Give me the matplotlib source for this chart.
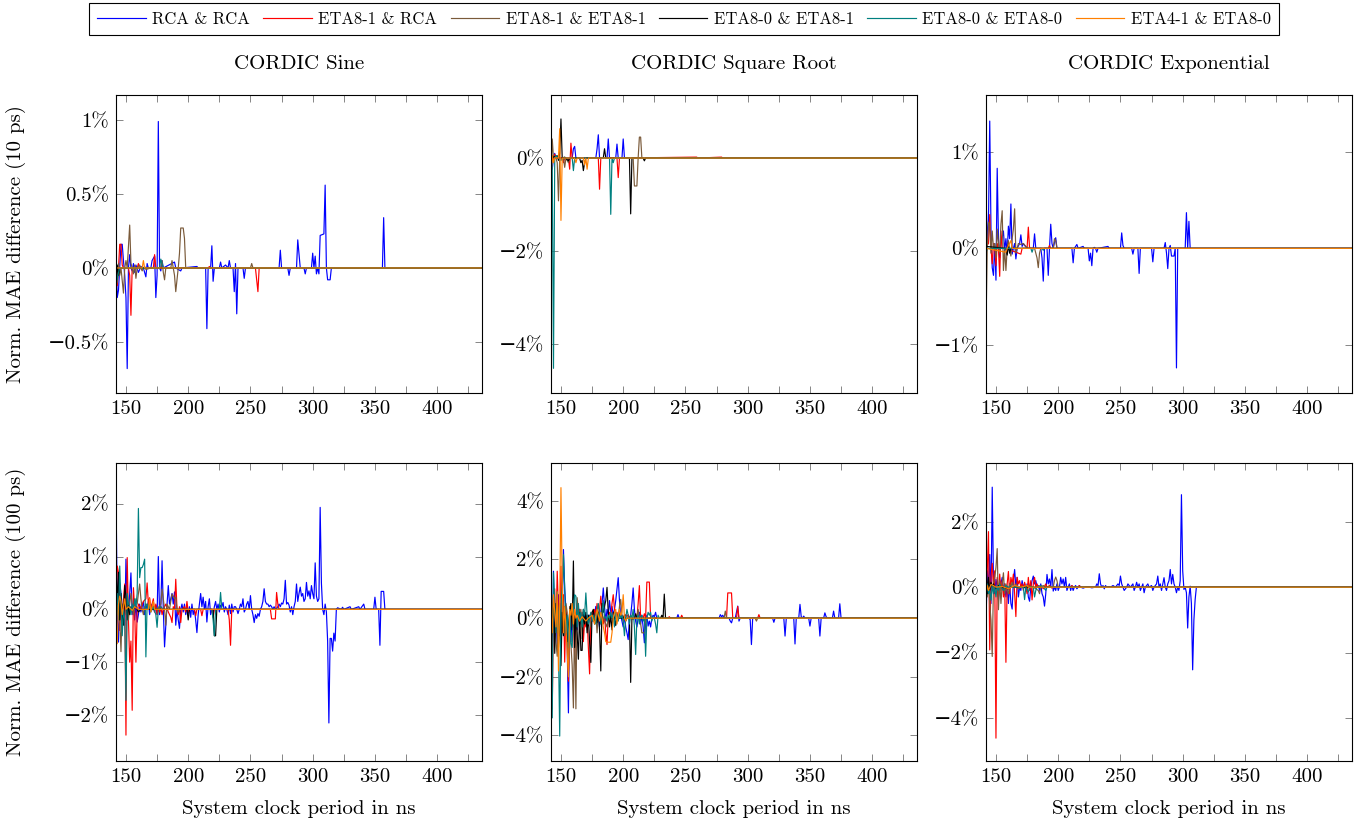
import matplotlib
matplotlib.use('Agg')
import matplotlib.pyplot as plt
from matplotlib.ticker import FuncFormatter

# Computer Modern look, minus sign comes from DejaVu Serif
plt.rcParams['font.family'] = ['cmr10', 'DejaVu Serif']
plt.rcParams['axes.unicode_minus'] = True

labels = ['RCA & RCA', 'ETA8-1 & RCA', 'ETA8-1 & ETA8-1',
          'ETA8-0 & ETA8-1', 'ETA8-0 & ETA8-0', 'ETA4-1 & ETA8-0']
colors = ['#0000ff', '#ff0000', '#7a5a3a', '#000000', '#008080', '#ff8000']

titles = ['CORDIC Sine', 'CORDIC Square Root', 'CORDIC Exponential']
ylabels = ['Norm. MAE difference (10 ps)', 'Norm. MAE difference (100 ps)']
xlabel = 'System clock period in ns'

# (clock period in ns, normalised MAE difference in %)
# ---- CORDIC Sine, 10 ps ----
sin10_rca = [(142, 0.12), (143, -0.2), (144, -0.15), (146, 0.16), (147, 0.16), (148, 0.05), (149, -0.05),
             (150, -0.2), (151, -0.68), (152, 0.0), (153, 0.09), (154, 0.0), (155, -0.02), (156, 0.03),
             (157, -0.03), (158, 0.02), (160, -0.03), (162, 0.01), (164, 0.0), (166, -0.06), (167, 0.03),
             (168, 0.0), (170, 0.0), (171, 0.05), (173, 0.08), (174, -0.2), (175, -0.05), (176, 0.99),
             (177, 0.0), (178, -0.02), (179, 0.05), (180, 0.0), (189, 0.04), (190, 0.0), (192, -0.01),
             (194, -0.02), (195, 0.0), (207, 0.01), (208, 0.0), (214, 0.0), (215, -0.41), (216, 0.0),
             (218, 0.0), (219, 0.15), (220, -0.09), (221, 0.0), (225, 0.0), (226, 0.04), (227, 0.0),
             (230, 0.02), (232, 0.0), (233, 0.05), (234, 0.0), (236, 0.0), (237, -0.16), (238, 0.03),
             (239, -0.31), (240, 0.0), (244, 0.0), (245, -0.07), (246, 0.0), (273, 0.0), (274, 0.12),
             (275, 0.0), (280, 0.0), (281, -0.05), (282, 0.0), (287, 0.0), (288, 0.19), (290, 0.0),
             (293, 0.0), (294, -0.04), (295, 0.0), (299, 0.0), (300, 0.1), (301, 0.0), (302, 0.08),
             (303, -0.04), (304, 0.0), (305, -0.04), (306, 0.22), (309, 0.23), (310, 0.56), (311, 0.0),
             (312, -0.08), (314, -0.08), (315, 0.0), (356, 0.0), (357, 0.34), (358, 0.0), (436, 0.0)]
sin10_e81r = [(142, -0.08), (143, -0.12), (144, 0.0), (145, 0.16), (146, 0.16), (147, 0.02), (148, 0.0),
              (152, 0.0), (153, -0.05), (154, -0.32), (155, 0.0), (159, 0.0), (160, 0.03), (161, 0.0),
              (172, 0.0), (173, 0.09), (174, 0.0), (216, 0.0), (217, 0.01), (218, 0.0), (254, 0.0),
              (255, -0.08), (256, -0.16), (257, 0.0), (436, 0.0)]
sin10_e81 = [(142, 0.02), (143, -0.1), (144, 0.03), (145, -0.05), (146, 0.0), (148, -0.17), (149, 0.0),
             (150, 0.05), (151, 0.0), (153, 0.29), (154, 0.03), (155, 0.0), (156, -0.04), (157, 0.02),
             (158, -0.07), (159, 0.0), (161, 0.02), (163, -0.02), (164, 0.0), (165, 0.01), (166, -0.01),
             (170, 0.0), (178, 0.0), (179, 0.05), (180, -0.03), (181, -0.08), (182, 0.0), (186, 0.0),
             (187, 0.05), (188, 0.0), (189, -0.05), (190, -0.16), (191, -0.08), (192, 0.0), (193, 0.1),
             (194, 0.27), (196, 0.27), (197, 0.2), (198, 0.0), (250, 0.0), (251, 0.03), (252, 0.0),
             (436, 0.0)]
sin10_e80e81 = [(142, -0.12), (143, 0.02), (144, -0.05), (145, 0.0), (436, 0.0)]
sin10_e80 = [(142, -0.02), (143, -0.08), (144, -0.03), (145, 0.0), (177, 0.0), (178, 0.06), (179, 0.03),
             (180, 0.0), (436, 0.0)]
sin10_e41 = [(142, 0.0), (163, 0.0), (164, 0.05), (165, 0.0), (436, 0.0)]

# ---- CORDIC Square Root, 10 ps ----
sqrt10_rca = [(142, -0.1), (143, -0.24), (144, 0.0), (145, 0.1), (146, 0.0), (159, 0.0), (160, 0.2),
              (161, 0.25), (162, 0.0), (178, 0.0), (179, 0.2), (180, 0.5), (181, 0.0), (187, 0.0),
              (188, 0.41), (189, 0.0), (194, 0.0), (195, 0.3), (196, 0.0), (199, 0.0), (200, 0.41),
              (201, 0.0), (436, 0.0)]
sqrt10_e81r = [(142, 0.0), (143, 0.05), (144, -0.05), (145, 0.08), (146, 0.0), (151, 0.0), (152, -0.1),
               (153, 0.0), (156, 0.0), (157, -0.24), (158, 0.32), (159, 0.0), (180, 0.0), (181, -0.67),
               (182, 0.0), (195, 0.0), (196, -0.42), (197, 0.0), (259, 0.02), (260, 0.0), (279, 0.02),
               (280, 0.0), (436, 0.0)]
sqrt10_e81 = [(142, -0.37), (143, 0.41), (144, 0.0), (146, 0.0), (147, -0.1), (148, -0.92), (149, 0.0),
              (152, 0.0), (153, -0.2), (154, 0.0), (156, -0.1), (157, 0.0), (208, 0.0), (209, -0.6),
              (211, -0.6), (212, 0.0), (213, 0.45), (214, 0.45), (215, 0.0), (436, 0.0)]
sqrt10_e80e81 = [(142, 0.0), (147, 0.05), (148, -0.05), (149, 0.1), (150, 0.84), (151, 0.0), (153, 0.02),
                 (156, -0.06), (157, 0.0), (165, 0.0), (166, -0.1), (167, -0.05), (168, -0.27), (169, -0.1),
                 (170, 0.0), (184, 0.0), (185, 0.2), (186, 0.0), (205, 0.0), (206, -1.2), (207, 0.0),
                 (216, 0.0), (217, -0.06), (218, 0.0), (436, 0.0)]
sqrt10_e80 = [(142, 0.05), (143, -0.2), (144, -4.52), (145, 0.0), (146, 0.05), (148, 0.0), (150, -0.05),
              (152, 0.0), (159, 0.0), (160, -0.27), (161, 0.0), (189, 0.0), (190, -1.21), (191, 0.0),
              (192, -0.1), (193, 0.0), (436, 0.0)]
sqrt10_e41 = [(142, -0.4), (143, 0.05), (144, -0.1), (145, 0.0), (148, 0.0), (149, 0.63), (150, -1.34),
              (151, 0.0), (161, 0.0), (162, -0.1), (163, 0.0), (168, 0.0), (169, -0.15), (170, 0.0),
              (171, -0.24), (172, 0.0), (436, 0.0)]

# ---- CORDIC Exponential, 10 ps ----
exp10_rca = [(142, 0.58), (143, 0.05), (144, 0.3), (145, 1.32), (146, 0.2), (147, -0.2), (148, -0.28),
             (149, 0.05), (150, -0.33), (151, 0.83), (152, 0.1), (153, -0.1), (154, 0.05), (156, 0.18),
             (157, -0.02), (158, 0.1), (159, -0.05), (160, 0.23), (161, 0.1), (162, 0.46), (163, -0.06),
             (164, 0.0), (165, 0.05), (166, -0.11), (167, 0.0), (169, 0.05), (170, 0.14), (171, 0.02),
             (172, 0.05), (173, 0.03), (175, 0.0), (180, 0.0), (181, 0.15), (182, 0.0), (186, 0.0),
             (187, -0.1), (188, -0.34), (189, 0.0), (191, 0.0), (192, -0.28), (193, 0.0), (194, 0.25),
             (195, 0.05), (196, 0.0), (197, 0.06), (198, 0.11), (199, 0.0), (211, 0.0), (212, -0.15),
             (213, 0.0), (215, 0.04), (216, 0.0), (220, 0.02), (221, 0.0), (224, 0.0), (225, -0.13),
             (226, -0.05), (227, -0.18), (228, 0.0), (229, 0.01), (230, 0.0), (231, -0.04), (232, 0.0),
             (240, 0.02), (241, 0.0), (250, 0.0), (251, 0.16), (252, 0.03), (253, 0.0), (259, 0.0),
             (260, -0.06), (261, 0.0), (264, 0.0), (265, -0.26), (266, 0.0), (275, 0.0), (276, -0.14),
             (277, 0.0), (285, 0.0), (286, 0.06), (287, -0.05), (288, -0.21), (289, 0.0), (290, 0.03),
             (291, -0.08), (293, -0.08), (294, 0.0), (295, -1.24), (296, 0.0), (302, 0.0), (303, 0.37),
             (304, 0.0), (305, 0.28), (306, 0.0), (436, 0.0)]
exp10_e81r = [(142, 0.02), (144, 0.05), (145, 0.35), (146, 0.0), (147, -0.16), (148, 0.05), (149, 0.0),
              (150, -0.18), (151, 0.05), (152, 0.0), (153, -0.29), (154, 0.18), (155, 0.0), (160, 0.0),
              (162, -0.02), (170, -0.06), (171, 0.0), (175, 0.0), (176, 0.22), (177, 0.0), (192, 0.0),
              (193, 0.03), (194, 0.0), (436, 0.0)]
exp10_e81 = [(142, -0.8), (143, 0.0), (144, 0.27), (145, 0.25), (146, -0.05), (147, 0.18), (148, 0.0),
             (149, 0.05), (150, -0.1), (151, 0.2), (152, 0.05), (153, -0.05), (154, 0.25), (155, 0.39),
             (156, -0.23), (157, 0.0), (158, -0.23), (159, 0.0), (160, 0.08), (161, -0.02), (162, -0.08),
             (163, 0.1), (164, 0.2), (165, 0.41), (166, -0.05), (167, 0.0), (168, 0.05), (170, 0.04),
             (172, 0.05), (174, 0.02), (176, 0.0), (181, 0.0), (182, -0.05), (183, -0.1), (184, -0.2),
             (185, -0.05), (186, 0.0), (196, 0.0), (197, 0.1), (198, 0.08), (199, 0.0), (436, 0.0)]
exp10_e80e81 = [(142, 0.02), (158, 0.0), (159, -0.07), (160, 0.03), (161, -0.05), (162, 0.0), (436, 0.0)]
exp10_e80 = [(142, -0.05), (143, 0.0), (178, 0.0), (179, -0.04), (180, 0.0), (187, 0.0), (188, -0.02),
             (189, 0.0), (436, 0.0)]
exp10_e41 = [(142, 0.0), (158, -0.04), (159, 0.0), (162, 0.08), (163, 0.0), (436, 0.0)]

# ---- CORDIC Sine, 100 ps ----
sin100_rca = [(142, 2.3), (143, -0.1), (144, -0.62), (145, 0.5), (146, 0.3), (147, -0.2), (148, 0.2),
              (149, -0.3), (150, 0.95), (151, 0.2), (152, -0.1), (153, 0.3), (154, 0.69), (155, -0.1),
              (156, 0.1), (157, -0.2), (158, 0.1), (159, -0.24), (160, -0.1), (161, 0.1), (162, -0.05),
              (163, 0.05), (164, 0.14), (165, -0.1), (166, 0.1), (167, 0.0), (168, 0.15), (169, -0.1),
              (170, 0.05), (171, 0.1), (172, 0.02), (173, -0.05), (174, 0.08), (175, -0.1), (176, 1.0),
              (177, -0.1), (178, 0.05), (179, 0.92), (180, 0.0), (181, -0.71), (182, -0.3), (183, 0.1),
              (184, 0.45), (185, 0.1), (186, 0.2), (187, 0.3), (188, 0.1), (189, 0.33), (190, -0.3),
              (191, 0.0), (192, -0.2), (193, -0.36), (194, 0.0), (195, 0.1), (196, -0.05), (197, 0.1),
              (198, -0.1), (199, 0.05), (200, -0.08), (201, 0.05), (202, -0.15), (203, 0.1), (204, -0.1),
              (205, 0.0), (206, -0.2), (207, -0.44), (208, -0.1), (209, 0.1), (210, 0.3), (211, 0.05),
              (212, 0.23), (213, 0.0), (214, 0.15), (215, -0.24), (216, 0.05), (217, 0.2), (218, -0.1),
              (219, 0.0), (220, -0.1), (221, 0.05), (222, 0.15), (223, 0.0), (224, 0.1), (225, -0.05),
              (226, 0.08), (227, 0.05), (228, 0.13), (229, -0.05), (230, 0.05), (231, 0.0), (232, -0.1),
              (233, 0.08), (234, -0.08), (235, 0.1), (236, -0.05), (237, 0.05), (238, 0.05), (239, 0.0),
              (240, -0.08), (241, 0.0), (242, 0.1), (243, 0.05), (244, 0.2), (245, -0.05), (246, 0.0),
              (247, 0.1), (248, 0.15), (249, 0.0), (250, 0.26), (251, 0.0), (252, -0.1), (253, -0.25),
              (254, -0.1), (255, -0.17), (256, -0.08), (257, -0.13), (258, 0.0), (259, 0.05), (260, 0.15),
              (261, 0.39), (262, 0.15), (263, 0.1), (264, 0.1), (265, 0.05), (266, 0.08), (267, 0.05),
              (268, 0.0), (269, 0.05), (270, 0.0), (271, 0.02), (272, 0.05), (273, 0.1), (274, 0.05),
              (275, 0.12), (276, 0.1), (277, 0.2), (278, 0.55), (279, 0.1), (280, 0.13), (281, 0.08),
              (282, -0.05), (283, 0.05), (284, -0.1), (285, 0.05), (286, 0.15), (287, 0.48), (288, 0.15),
              (289, 0.3), (290, 0.42), (291, 0.25), (292, 0.3), (293, 0.15), (294, 0.2), (295, 0.51),
              (296, 0.25), (297, 0.35), (298, 0.2), (299, 0.45), (300, 0.3), (301, 0.2), (302, 0.88),
              (303, 0.25), (304, 0.15), (305, 0.2), (306, 1.93), (307, 0.5), (308, 0.0), (309, -0.1),
              (310, 0.1), (311, -0.05), (312, -0.6), (313, -2.15), (314, -0.55), (315, -0.55), (316, -0.79),
              (317, -0.45), (318, -0.6), (319, 0.0), (320, 0.03), (323, 0.0), (324, 0.04), (325, 0.0),
              (330, 0.05), (331, 0.0), (337, 0.05), (338, 0.0), (341, 0.1), (342, 0.0), (349, 0.0),
              (350, 0.23), (351, 0.0), (353, 0.0), (354, -0.68), (355, 0.34), (357, 0.34), (358, 0.0),
              (436, 0.0)]
sin100_e81r = [(142, 0.0), (143, 0.82), (144, 0.7), (145, -0.4), (146, 0.1), (147, -0.3), (148, 0.2),
               (149, 0.48), (150, -2.38), (151, 0.98), (152, -0.2), (153, -1.0), (154, -0.6), (155, -1.91),
               (156, 0.41), (157, 0.0), (158, -1.0), (159, -0.05), (160, 0.1), (162, 0.02), (164, 0.15),
               (166, 0.2), (167, 0.5), (168, 0.1), (169, 0.22), (170, 0.0), (171, 0.1), (172, 0.2),
               (173, -0.05), (174, 0.1), (175, -0.1), (176, 0.02), (177, -0.05), (178, 0.05), (179, -0.1),
               (180, 0.0), (182, 0.1), (184, -0.05), (186, -0.15), (187, -0.25), (188, 0.05), (189, 0.0),
               (190, 0.57), (191, 0.0), (192, -0.1), (193, 0.05), (194, -0.25), (195, 0.0), (197, 0.05),
               (198, -0.05), (199, 0.15), (200, -0.05), (201, 0.0), (205, 0.0), (206, -0.12), (207, 0.0),
               (210, 0.0), (211, -0.12), (212, 0.0), (219, 0.0), (220, -0.15), (221, 0.0), (232, 0.0),
               (233, -0.2), (234, -0.68), (235, 0.0), (266, 0.0), (267, -0.18), (270, -0.18), (271, 0.32),
               (272, 0.1), (273, 0.0), (436, 0.0)]
sin100_e81 = [(142, 0.2), (143, -0.1), (144, 0.3), (145, -0.2), (146, -0.8), (147, 0.1), (148, 0.05),
              (149, 0.3), (150, -0.1), (151, 0.0), (152, -0.2), (153, 0.1), (154, 0.3), (155, 0.1),
              (156, -0.1), (157, 0.05), (158, 0.2), (159, 0.1), (160, 0.3), (161, 0.48), (162, 0.2),
              (163, 0.0), (164, -0.1), (165, 0.05), (167, 0.1), (170, 0.0), (172, 0.05), (175, 0.0),
              (178, 0.1), (179, 0.38), (180, 0.2), (181, 0.0), (182, -0.3), (183, 0.1), (185, 0.0),
              (186, 0.15), (187, 0.29), (188, 0.25), (189, 0.2), (190, 0.23), (191, 0.0), (192, -0.05),
              (193, 0.0), (436, 0.0)]
sin100_e80e81 = [(142, 0.85), (143, 0.1), (144, 0.7), (145, -0.2), (146, 0.3), (147, -0.1), (148, -0.3),
                 (149, 0.45), (150, 0.25), (151, -0.2), (152, 0.1), (153, -0.1), (154, 0.05), (155, 0.0),
                 (158, 0.05), (160, -0.05), (162, 0.0), (199, 0.0), (200, -0.2), (201, 0.0), (220, 0.0),
                 (221, -0.5), (222, -0.5), (223, 0.0), (436, 0.0)]
sin100_e80 = [(142, 0.0), (143, 0.3), (144, -0.2), (145, 0.82), (146, 0.1), (147, -0.5), (148, 0.0),
              (149, -0.2), (150, -1.72), (151, 0.3), (152, 0.1), (153, 0.05), (154, -0.1), (155, 0.1),
              (156, 0.0), (157, 0.2), (158, 0.05), (159, 0.3), (160, 1.91), (161, 0.6), (162, 0.79),
              (163, 0.79), (164, 0.85), (165, 0.95), (166, -0.9), (167, 0.1), (168, 0.0), (169, 0.1),
              (170, -0.05), (172, 0.05), (174, -0.1), (175, -0.34), (176, 0.0), (178, 0.05), (180, 0.0),
              (219, 0.0), (220, -0.2), (221, -0.5), (222, 0.0), (225, 0.0), (226, 0.32), (227, 0.0),
              (436, 0.0)]
sin100_e41 = [(142, -0.3), (143, -0.65), (144, 0.1), (145, 0.25), (146, 0.15), (147, -0.1), (148, 0.05),
              (149, 0.2), (150, 0.0), (152, 0.05), (155, -0.02), (157, 0.05), (160, 0.0), (168, 0.0),
              (169, 0.2), (170, -0.05), (172, 0.15), (173, 0.0), (436, 0.0)]

# ---- CORDIC Square Root, 100 ps ----
sqrt100_rca = [(142, 0.5), (143, -1.5), (144, 1.6), (145, -0.5), (146, 0.3), (147, -1.0), (148, 0.8),
               (149, -0.6), (150, 0.5), (151, 0.2), (152, 2.34), (153, 1.0), (154, 0.3), (155, -1.0),
               (156, -3.23), (157, 0.3), (158, -0.8), (159, 0.1), (160, -0.3), (161, 0.2), (162, 0.1),
               (163, -0.4), (164, 0.0), (165, 0.3), (166, -0.2), (167, 0.1), (168, -0.1), (169, 0.2),
               (170, 0.0), (171, 0.1), (172, -0.2), (173, 0.1), (174, 0.0), (175, -0.1), (176, 0.2),
               (177, 0.1), (178, 0.4), (179, -0.1), (180, 0.2), (181, -0.3), (182, 0.2), (183, 0.5),
               (184, 1.03), (185, 0.4), (186, -0.1), (187, 0.3), (188, 0.1), (189, 0.6), (190, 0.2),
               (191, 0.4), (192, 0.1), (193, 0.3), (194, 0.6), (195, 1.0), (196, 1.38), (197, 0.6),
               (198, 0.1), (199, -0.1), (200, -0.3), (201, 0.1), (202, -0.3), (203, -0.5), (204, -0.73),
               (205, 0.0), (206, 0.1), (207, 0.5), (208, 1.03), (209, 0.3), (210, -0.1), (211, -0.3),
               (212, 0.0), (213, 0.2), (214, -0.2), (215, 0.1), (216, -0.3), (217, -0.84), (218, -0.2),
               (219, 0.1), (220, -0.27), (221, -0.1), (222, -0.3), (223, 0.0), (224, 0.1), (225, 0.05),
               (226, 0.2), (227, 0.0), (243, 0.0), (244, 0.12), (245, 0.0), (277, 0.0), (278, 0.12),
               (279, 0.05), (280, 0.1), (281, 0.0), (285, 0.0), (286, -0.1), (287, -0.16), (288, 0.0),
               (290, 0.0), (291, 0.2), (292, 0.41), (293, -0.1), (294, 0.0), (301, 0.0), (302, -0.05),
               (303, -0.9), (304, 0.0), (320, 0.0), (321, -0.14), (322, 0.0), (329, 0.0), (330, -0.61),
               (331, 0.0), (337, 0.0), (338, -0.88), (339, 0.0), (341, 0.0), (342, 0.47), (343, 0.05),
               (344, 0.0), (345, 0.07), (346, 0.0), (349, 0.0), (350, -0.27), (351, 0.0), (357, 0.0),
               (358, -0.61), (359, 0.0), (361, 0.0), (362, 0.18), (363, 0.05), (364, 0.0), (368, 0.0),
               (369, 0.24), (370, 0.0), (373, 0.0), (374, 0.49), (375, 0.0), (436, 0.0)]
sqrt100_e81r = [(142, 2.72), (143, -3.1), (144, 0.3), (145, 1.0), (146, -0.5), (147, 1.6), (148, 0.2),
                (149, -0.3), (150, 1.77), (151, -0.5), (152, 0.8), (153, -1.5), (154, 0.3), (155, -0.5),
                (156, -2.15), (157, 0.1), (158, 0.3), (159, -0.3), (160, 0.0), (161, -1.4), (162, 0.2),
                (163, 0.5), (164, -0.1), (165, 0.3), (166, 0.0), (167, 0.2), (168, -0.8), (169, -0.1),
                (170, -0.3), (171, 0.1), (172, -1.0), (173, -1.9), (174, 0.1), (175, 0.2), (176, 0.0),
                (177, 0.3), (178, 0.1), (179, 0.5), (180, 0.0), (181, 0.3), (182, 0.75), (183, 0.2),
                (184, -0.2), (185, 0.1), (186, -0.5), (187, -0.9), (188, 0.1), (189, 0.2), (190, 0.0),
                (191, 0.5), (192, 0.8), (193, 0.3), (194, 0.1), (195, 0.2), (196, 0.0), (197, 0.1),
                (198, 0.05), (199, 0.1), (200, 0.0), (202, 0.12), (203, 0.05), (204, 0.12), (205, 0.0),
                (206, 0.1), (207, 0.0), (211, 0.0), (212, 0.5), (213, 1.11), (214, 0.0), (216, 0.0),
                (217, 0.15), (218, 0.0), (219, 1.23), (221, 1.23), (222, 0.0), (236, 0.0), (237, 0.05),
                (238, 0.0), (246, 0.0), (247, 0.1), (248, 0.0), (283, 0.0), (284, 0.86), (287, 0.86),
                (288, 0.0), (291, 0.0), (292, 0.4), (293, 0.0), (308, 0.0), (309, 0.12), (310, 0.0),
                (436, 0.0)]
sqrt100_e81 = [(142, 0.5), (143, -0.2), (144, 0.8), (145, 0.3), (146, -0.8), (147, -1.3), (148, 0.2),
               (149, 0.5), (150, -0.4), (151, 1.0), (152, 0.1), (153, -0.6), (154, 0.5), (155, 0.2),
               (156, -1.8), (157, 0.4), (158, -0.9), (159, -1.6), (160, -3.06), (161, 0.0), (162, -3.09),
               (163, 0.7), (164, 0.2), (165, -0.4), (166, 0.3), (167, -0.7), (168, 0.1), (169, -0.2),
               (170, 0.0), (172, 0.1), (173, 0.0), (174, -0.3), (175, 0.1), (176, -0.1), (178, 0.2),
               (179, -0.5), (180, 0.2), (181, 0.0), (182, -0.2), (183, 0.1), (184, 0.0), (186, -0.2),
               (187, -0.3), (188, 0.1), (189, 0.0), (196, 0.0), (197, 0.4), (198, 0.64), (199, 0.1),
               (200, -0.1), (201, 0.0), (206, 0.0), (207, 0.05), (208, -0.05), (209, 0.0), (211, 0.0),
               (212, 0.3), (213, 0.0), (214, -0.2), (215, -0.5), (217, -0.5), (218, 0.0), (281, 0.0),
               (282, 0.24), (283, 0.0), (306, 0.0), (307, -0.1), (308, 0.0), (436, 0.0)]
sqrt100_e80e81 = [(142, 0.3), (143, -0.5), (144, 0.8), (145, -1.2), (146, 0.5), (147, -0.3), (148, -1.0),
                  (149, 0.3), (150, -1.62), (151, 0.2), (152, -0.6), (153, 0.4), (154, 0.1), (155, -0.8),
                  (156, -0.3), (157, 0.2), (158, 0.5), (159, -0.4), (160, 1.95), (161, -1.0), (162, 0.1),
                  (163, -0.5), (164, -1.4), (165, 0.2), (166, -1.1), (167, -1.1), (168, 0.3), (169, -0.2),
                  (170, 0.2), (171, -0.5), (172, 0.1), (173, -0.8), (174, -1.51), (175, 0.2), (176, 0.3),
                  (177, -0.2), (178, 0.0), (179, -0.15), (180, 0.2), (181, -0.4), (182, -1.8), (183, 0.5),
                  (184, 0.2), (185, 0.4), (186, 0.6), (187, 1.05), (188, 0.2), (189, -0.3), (190, 0.1),
                  (191, -0.4), (192, 0.2), (193, 0.0), (194, -0.25), (195, 0.1), (196, 0.0), (200, 0.0),
                  (201, 0.1), (202, -0.1), (203, 0.0), (205, 0.0), (206, -2.19), (207, 0.0), (209, 0.0),
                  (210, 0.15), (211, 0.0), (230, 0.0), (231, 0.1), (232, 0.0), (233, 0.82), (234, 0.0),
                  (436, 0.0)]
sqrt100_e80 = [(142, 1.25), (143, -3.4), (144, 1.55), (145, 0.5), (146, -0.5), (147, 0.9), (148, -1.0),
               (149, -4.02), (150, 0.5), (151, 1.0), (152, 2.17), (153, 1.0), (154, -0.5), (155, 0.1),
               (156, -1.0), (157, 0.3), (158, -0.85), (159, -1.0), (160, 0.3), (161, 0.8), (162, 0.75),
               (163, -0.3), (164, 0.5), (165, -0.1), (166, 0.2), (167, -0.3), (168, 0.3), (169, 0.1),
               (170, 0.86), (171, 0.1), (172, -0.2), (173, 0.0), (174, 0.2), (175, -0.1), (176, 0.1),
               (177, 0.0), (178, -0.2), (179, 0.2), (180, 0.5), (181, 0.1), (182, -0.2), (183, 0.2),
               (184, 0.6), (185, 0.0), (186, 0.05), (187, -0.1), (188, 0.1), (189, 0.0), (190, 0.2),
               (191, 0.0), (192, 0.1), (193, -0.3), (194, 0.2), (195, 0.1), (196, -0.1), (197, 0.2),
               (198, 0.0), (199, 0.1), (200, -0.1), (201, -0.6), (202, 0.0), (203, 0.3), (204, 0.1),
               (205, -0.2), (206, 0.1), (207, 0.0), (208, 0.3), (209, -0.3), (210, -1.24), (211, 0.0),
               (212, 0.1), (213, -0.2), (214, 0.05), (215, 0.1), (216, -0.1), (217, 0.0), (218, -1.3),
               (219, 0.0), (220, 0.2), (221, 0.1), (222, 0.2), (223, -0.1), (224, 0.05), (225, 0.0),
               (226, -0.2), (227, -0.5), (228, 0.1), (229, 0.0), (436, 0.0)]
sqrt100_e41 = [(142, 0.3), (143, -0.5), (144, 0.8), (145, 0.2), (146, -0.3), (147, 0.9), (148, -1.8),
               (149, 0.5), (150, 4.45), (151, 1.2), (152, -0.5), (153, 0.4), (154, -0.3), (155, -1.2),
               (156, -2.0), (157, 0.3), (158, 0.1), (159, 0.5), (160, -0.2), (161, 0.3), (162, 0.0),
               (163, 0.1), (165, -0.1), (167, 0.05), (170, -0.1), (172, 0.0), (175, 0.1), (177, -0.2),
               (179, 0.3), (180, 0.1), (181, -0.1), (182, 0.2), (183, 0.0), (184, -0.3), (185, -0.5),
               (186, -0.8), (187, -0.82), (190, -0.82), (191, -0.5), (192, 0.0), (193, 0.2), (194, 0.3),
               (195, -0.2), (196, 0.1), (197, 0.3), (198, 0.1), (199, 0.2), (200, 0.8), (201, 0.0),
               (202, -0.1), (203, 0.0), (436, 0.0)]

# ---- CORDIC Exponential, 100 ps ----
exp100_rca = [(142, -1.05), (143, 0.5), (144, 0.0), (145, 1.0), (146, -0.5), (147, 3.06), (148, 0.2),
              (149, -0.2), (150, 0.24), (151, 0.0), (152, -0.4), (153, 0.2), (154, 0.1), (155, 0.3),
              (156, -0.1), (157, 0.1), (158, -0.3), (159, 0.0), (160, -0.5), (161, 0.1), (162, -0.5),
              (163, -0.67), (164, 0.2), (165, 0.54), (166, 0.0), (167, 0.3), (168, -0.3), (169, 0.0),
              (170, -0.1), (171, 0.2), (172, 0.0), (173, 0.1), (174, -0.1), (175, 0.1), (176, -0.3),
              (177, -0.43), (178, 0.0), (179, 0.2), (180, 0.34), (181, 0.1), (182, 0.2), (183, 0.0),
              (184, 0.05), (185, -0.1), (186, 0.1), (187, -0.2), (188, -0.3), (189, -0.58), (190, -0.2),
              (191, 0.39), (192, 0.1), (193, 0.25), (194, 0.0), (195, 0.54), (196, -0.12), (197, 0.0),
              (198, -0.1), (199, 0.1), (200, -0.1), (201, 0.0), (202, 0.3), (203, 0.1), (204, 0.25),
              (205, 0.0), (206, 0.3), (207, -0.1), (208, 0.0), (209, 0.1), (210, -0.1), (211, 0.05),
              (212, -0.1), (213, 0.0), (214, 0.05), (215, -0.05), (216, 0.0), (217, 0.05), (218, 0.0),
              (220, -0.03), (222, 0.0), (225, 0.0), (227, -0.02), (230, 0.0), (231, 0.1), (232, 0.05),
              (233, 0.41), (234, 0.1), (235, 0.0), (236, 0.05), (237, -0.05), (238, 0.05), (239, 0.0),
              (241, 0.02), (242, 0.0), (244, 0.05), (246, 0.0), (248, 0.1), (249, 0.05), (250, 0.34),
              (251, 0.1), (252, 0.0), (253, -0.1), (254, -0.05), (255, 0.0), (256, 0.1), (257, 0.05),
              (258, 0.0), (259, 0.05), (260, 0.1), (261, -0.1), (262, 0.0), (263, 0.15), (264, 0.0),
              (265, 0.1), (266, -0.1), (267, 0.0), (268, 0.1), (269, -0.17), (270, 0.0), (272, 0.1),
              (273, 0.0), (275, 0.05), (276, -0.1), (277, 0.0), (279, 0.1), (280, 0.34), (281, 0.0),
              (282, 0.1), (283, -0.1), (284, 0.1), (285, 0.29), (286, 0.0), (287, -0.1), (288, 0.1),
              (289, 0.2), (290, 0.54), (291, 0.1), (292, 0.39), (293, 0.1), (294, 0.0), (295, -0.17),
              (296, 0.0), (297, -0.1), (298, 0.2), (299, 2.83), (300, 0.5), (301, -0.07), (302, 0.0),
              (303, -0.17), (304, -1.25), (305, -0.3), (306, 0.03), (307, -0.5), (308, -2.53),
              (309, -1.0), (310, -0.38), (311, 0.0), (436, 0.0)]
exp100_e81r = [(142, 0.0), (143, 0.5), (144, 1.7), (145, -1.92), (146, 0.3), (147, 0.73), (148, 0.0),
               (149, 0.5), (150, -4.62), (151, 0.3), (152, -0.3), (153, 0.4), (154, -0.1), (155, 0.2),
               (156, -0.3), (157, 0.1), (158, -2.3), (159, 0.1), (160, 0.48), (161, -0.2), (162, 0.3),
               (163, 0.1), (164, 0.4), (165, -0.2), (166, -0.9), (167, 0.3), (168, 0.1), (169, 0.2),
               (170, 0.0), (171, 0.1), (172, -0.1), (173, 0.15), (174, 0.0), (175, -0.2), (176, 0.3),
               (177, -0.1), (178, 0.2), (179, -0.39), (180, 0.1), (181, 0.3), (182, 0.0), (183, 0.1),
               (184, 0.0), (186, 0.05), (188, -0.05), (190, 0.1), (191, 0.0), (193, 0.05), (195, -0.03),
               (196, 0.0), (210, 0.0), (211, 0.05), (212, 0.0), (216, 0.0), (217, 0.05), (218, 0.0),
               (436, 0.0)]
exp100_e81 = [(142, 0.85), (143, -0.3), (144, 0.2), (145, -0.5), (146, -1.0), (147, -2.12), (148, 0.1),
              (149, 0.3), (150, 0.6), (151, 1.18), (152, -0.69), (153, 0.2), (154, -0.5), (155, 0.1),
              (156, 0.44), (157, -0.2), (158, 0.1), (159, -0.1), (160, -0.2), (161, 0.1), (162, 0.0),
              (163, 0.15), (164, 0.0), (166, 0.1), (168, -0.05), (170, 0.0), (175, 0.05), (180, 0.0),
              (184, -0.1), (185, -0.2), (186, 0.0), (188, 0.05), (190, 0.0), (196, 0.0), (197, 0.2),
              (198, 0.31), (199, 0.2), (200, 0.0), (436, 0.0)]
exp100_e80e81 = [(142, 0.6), (143, -0.2), (144, 0.3), (145, -0.1), (146, 0.15), (147, 0.0), (148, 0.1),
                 (150, -0.05), (152, 0.05), (155, 0.0), (160, -0.05), (162, 0.0), (436, 0.0)]
exp100_e80 = [(142, -0.3), (143, 0.1), (144, -0.2), (145, -0.1), (146, -0.4), (147, 0.05), (148, -0.2),
              (149, 0.0), (150, -0.3), (151, 0.05), (152, -0.1), (153, 0.1), (154, 0.0), (156, -0.1),
              (158, 0.05), (160, 0.0), (172, 0.0), (173, -0.38), (174, 0.0), (176, -0.15), (177, 0.0),
              (180, 0.0), (181, -0.3), (182, -0.1), (183, 0.0), (186, 0.05), (188, 0.0), (190, -0.1),
              (191, 0.0), (436, 0.0)]
exp100_e41 = [(142, -0.2), (143, 0.05), (144, -0.1), (146, 0.08), (148, 0.05), (150, 0.0), (155, 0.02),
              (160, -0.05), (165, 0.05), (170, 0.0), (175, 0.05), (176, 0.0), (436, 0.0)]

panels = [
    [sin10_rca, sin10_e81r, sin10_e81, sin10_e80e81, sin10_e80, sin10_e41],
    [sqrt10_rca, sqrt10_e81r, sqrt10_e81, sqrt10_e80e81, sqrt10_e80, sqrt10_e41],
    [exp10_rca, exp10_e81r, exp10_e81, exp10_e80e81, exp10_e80, exp10_e41],
    [sin100_rca, sin100_e81r, sin100_e81, sin100_e80e81, sin100_e80, sin100_e41],
    [sqrt100_rca, sqrt100_e81r, sqrt100_e81, sqrt100_e80e81, sqrt100_e80, sqrt100_e41],
    [exp100_rca, exp100_e81r, exp100_e81, exp100_e80e81, exp100_e80, exp100_e41],
]
yticks = [[1, 0.5, 0, -0.5], [0, -2, -4], [1, 0, -1],
          [2, 1, 0, -1, -2], [4, 2, 0, -2, -4], [2, 0, -2, -4]]
ylims = [(-0.845, 1.169), (-5.05, 1.355), (-1.50, 1.59),
         (-2.87, 2.77), (-4.87, 5.29), (-5.32, 3.80)]


def pct(v, pos):
    return ('%g%%' % v).replace('-', '\u2212')


def xlab(v, pos):
    return '%d' % v if v % 50 == 0 else ''


W, H = 1368, 822
lefts = [116, 551, 986]
tops = [95, 463]
aw, ah = 366, 298
fs = 15

fig = plt.figure(figsize=(W / 100, H / 100), dpi=100)
axes = []
for i, series in enumerate(panels):
    r, c = divmod(i, 3)
    ax = fig.add_axes([lefts[c] / W, 1 - (tops[r] + ah) / H, aw / W, ah / H])
    axes.append(ax)
    for pts, col, lab in zip(series, colors, labels):
        xs, ys = zip(*pts)
        ax.plot(xs, ys, color=col, lw=0.85, label=lab)
    ax.set_xlim(142, 436)
    ax.set_ylim(*ylims[i])
    ax.set_xticks(range(150, 426, 25))
    ax.xaxis.set_major_formatter(FuncFormatter(xlab))
    ax.set_yticks(yticks[i])
    ax.yaxis.set_major_formatter(FuncFormatter(pct))
    ax.tick_params(direction='in', top=True, right=True, length=5, width=0.6,
                   color='0.45', labelsize=fs, pad=5)
    for s in ax.spines.values():
        s.set_linewidth(0.8)
    if r == 0:
        ax.set_title(titles[c], fontsize=fs, pad=19)
    else:
        ax.set_xlabel(xlabel, fontsize=fs)
        ax.xaxis.set_label_coords(0.5, -0.132)
    if c == 0:
        ax.set_ylabel(ylabels[r], fontsize=fs)
        ax.yaxis.set_label_coords(-0.245, 0.5)

handles, _ = axes[0].get_legend_handles_labels()
leg = fig.legend(handles, labels, loc='upper center', bbox_to_anchor=(0.5, 1 - 3 / H), ncol=6,
                 fontsize=12, frameon=True, fancybox=False, edgecolor='black', framealpha=1,
                 handlelength=2.9, columnspacing=0.8, handletextpad=0.4, borderpad=0.5,
                 borderaxespad=0)
leg.get_frame().set_linewidth(0.8)

fig.savefig('out.png', dpi=100)
